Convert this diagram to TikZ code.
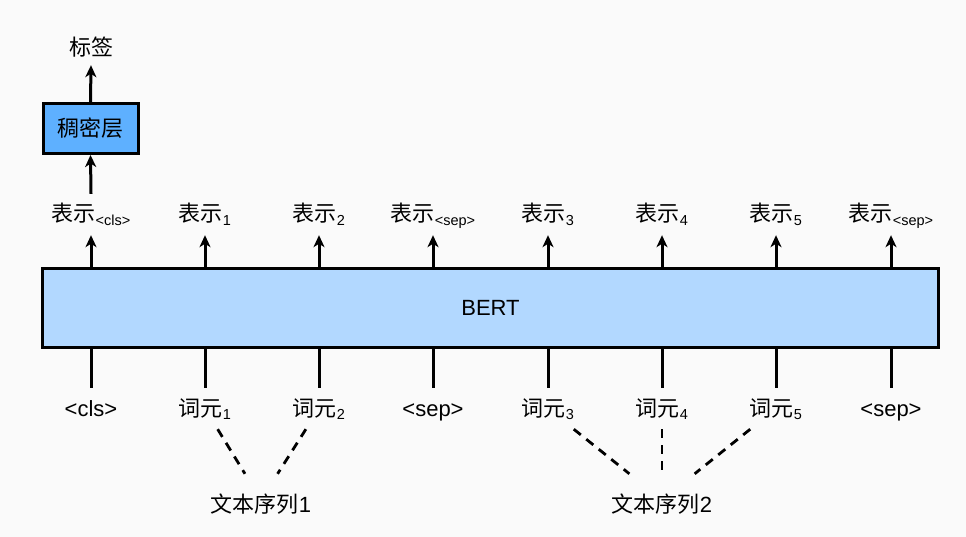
\documentclass[tikz,border=0pt]{standalone}
\usepackage{fontspec}
\setmainfont{Liberation Sans}
\newfontfamily\cjk{Noto Sans CJK SC}
\usetikzlibrary{arrows.meta}
\definecolor{bertblue}{RGB}{178,216,255}
\definecolor{denseblue}{RGB}{94,176,255}
\definecolor{bgc}{RGB}{250,250,250}
\newcommand{\mysub}[1]{\raisebox{-3.5pt}{\fontsize{14.5}{14.5}\selectfont #1}}
\begin{document}
\begin{tikzpicture}[x=1pt,y=-1pt,
  font=\fontsize{22}{22}\selectfont,
  lbl/.style={inner sep=0pt, text height=28pt, text depth=13pt, anchor=base},
  arr/.style={line width=3pt, -{Stealth[length=12pt,width=11pt,inset=3.5pt]}},
  ln/.style={line width=3pt},
  dsh/.style={line width=2.8pt, dash pattern=on 9pt off 7pt},
  boxst/.style={draw, line width=3pt, inner sep=0pt}]
\fill[bgc] (0,0) rectangle (966,537);
\useasboundingbox (0,0) rectangle (966,537);
% boxes
\node[boxst, fill=bertblue, minimum width=896pt, minimum height=79pt] (bert) at (490.5,308) {BERT};
\node[boxst, fill=denseblue, minimum width=95pt, minimum height=50pt] (dense) at (90.5,128.5) {\cjk 稠密层};
\node[inner sep=0pt, text depth=9pt, anchor=base] (lab) at (91,56) {\cjk 标签};
% top labels
\node[lbl] (r0) at (91,222) {{\cjk 表示}\mysub{<cls>}};
\node[lbl] (r1) at (205,222) {{\cjk 表示}\mysub{1}};
\node[lbl] (r2) at (319,222) {{\cjk 表示}\mysub{2}};
\node[lbl] (r3) at (433,222) {{\cjk 表示}\mysub{<sep>}};
\node[lbl] (r4) at (548,222) {{\cjk 表示}\mysub{3}};
\node[lbl] (r5) at (662,222) {{\cjk 表示}\mysub{4}};
\node[lbl] (r6) at (776,222) {{\cjk 表示}\mysub{5}};
\node[lbl] (r7) at (891,222) {{\cjk 表示}\mysub{<sep>}};
% bottom labels
\node[lbl] (w0) at (91,416) {<cls>};
\node[lbl] (w1) at (205,416) {{\cjk 词元}\mysub{1}};
\node[lbl] (w2) at (319,416) {{\cjk 词元}\mysub{2}};
\node[lbl] (w3) at (433,416) {<sep>};
\node[lbl] (w4) at (548,416) {{\cjk 词元}\mysub{3}};
\node[lbl] (w5) at (662,416) {{\cjk 词元}\mysub{4}};
\node[lbl] (w6) at (776,416) {{\cjk 词元}\mysub{5}};
\node[lbl] (w7) at (891,416) {<sep>};
% sequences
\node[inner sep=0pt, text height=38pt, text depth=14pt, anchor=base] (s1) at (261,512) {{\cjk 文本序列}1};
\node[inner sep=0pt, text height=38pt, text depth=14pt, anchor=base] (s2) at (662,512) {{\cjk 文本序列}2};
% connectors
\foreach \i in {0,...,7} {
  \draw[arr] (bert.north -| r\i) -- (r\i.south);
  \draw[ln] (bert.south -| w\i) -- (w\i.north);
}
\draw[arr] (r0.north) -- (dense.south);
\draw[arr] (dense.north) -- (lab.south);
\draw[dsh] (w1) -- (s1);
\draw[dsh] (w2) -- (s1);
\draw[dsh] (w4) -- (s2);
\draw[dsh] (w5) -- (s2);
\draw[dsh] (w6) -- (s2);
\end{tikzpicture}
\end{document}
